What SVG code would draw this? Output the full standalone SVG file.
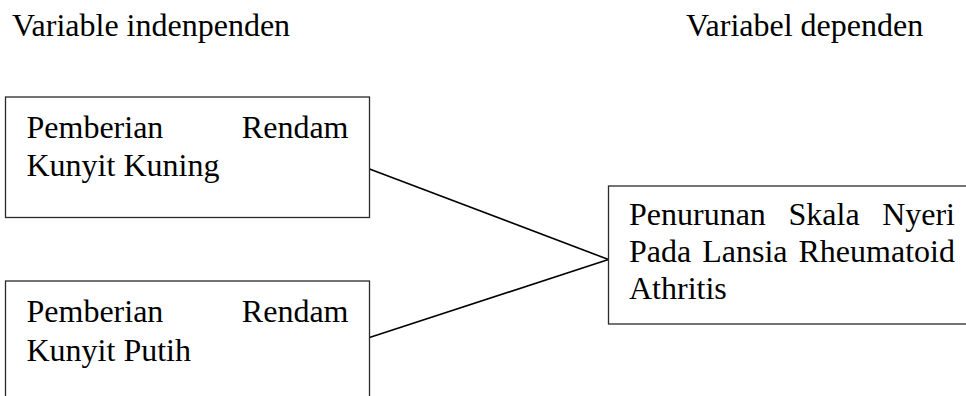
<svg xmlns="http://www.w3.org/2000/svg" width="966" height="396" viewBox="0 0 966 396">
<style>
text{font-family:"Liberation Serif","Times New Roman",serif;font-size:32px;fill:#000}
.box{fill:#fff;stroke:#2a2a2a;stroke-width:1.3}
.conn{stroke:#000;stroke-width:1.6;fill:none}
.end{text-anchor:end}
</style>
<rect width="966" height="396" fill="#fff"/>
<g id="header-left"><text x="12" y="36">Variable indenpenden</text></g>
<g id="header-right"><text x="686" y="36">Variabel dependen</text></g>
<g id="connectors">
<line class="conn" x1="369.5" y1="169" x2="608.5" y2="259.5"/>
<line class="conn" x1="369.5" y1="337.5" x2="608.5" y2="259.5"/>
</g>
<g id="node-kuning">
<rect class="box" x="5.5" y="97" width="364" height="120.5"/>
<text x="26.5" y="138">Pemberian</text>
<text class="end" x="348.5" y="138">Rendam</text>
<text x="26.5" y="176">Kunyit Kuning</text>
</g>
<g id="node-putih">
<rect class="box" x="5.5" y="281" width="364" height="130"/>
<text x="26.5" y="322">Pemberian</text>
<text class="end" x="348.5" y="322">Rendam</text>
<text x="26.5" y="360.5">Kunyit Putih</text>
</g>
<g id="node-dependen">
<rect class="box" x="608.5" y="186" width="370" height="138"/>
<text x="629" y="225">Penurunan</text>
<text x="788.5" y="225">Skala</text>
<text class="end" x="955" y="225">Nyeri</text>
<text x="629" y="262" word-spacing="3">Pada Lansia Rheumatoid</text>
<text x="629" y="299">Athritis</text>
</g>
</svg>
